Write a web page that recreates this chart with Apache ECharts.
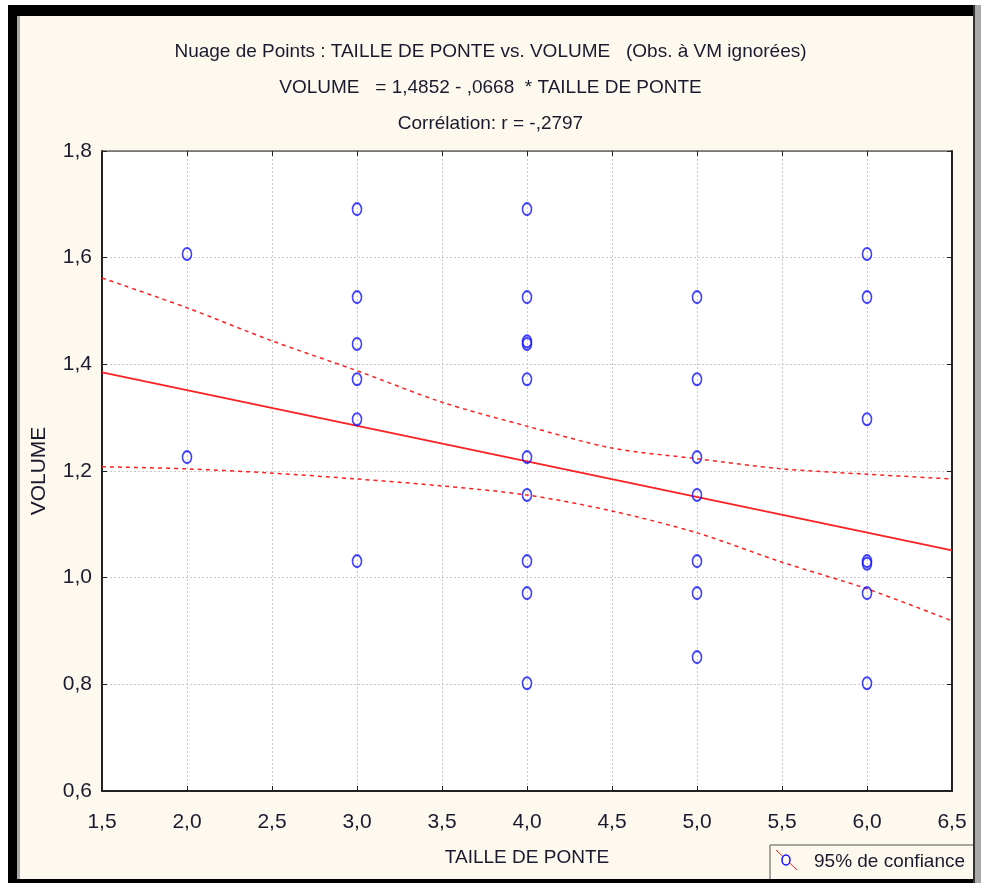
<!DOCTYPE html>
<html>
<head>
<meta charset="utf-8">
<script src="https://cdn.jsdelivr.net/npm/echarts@6/dist/echarts.min.js"></script>
<style>
  html, body { margin: 0; padding: 0; background: #ffffff; }
  #main { width: 981px; height: 883px; }
</style>
</head>
<body>
<div id="main"></div>
<script>
var chart = echarts.init(document.getElementById('main'))

// valeurs
var pontes = [2, 2, 3, 3, 3, 3, 3, 3, 4, 4, 4, 4, 4, 4, 4, 4, 4, 4, 5, 5, 5, 5, 5, 5, 5, 6, 6, 6, 6, 6, 6, 6]
var volumes = [1.607, 1.226, 1.691, 1.526, 1.438, 1.372, 1.297, 1.031, 1.691, 1.526, 1.443, 1.438, 1.372, 1.226, 1.155, 1.031, 0.971, 0.802, 1.526, 1.372, 1.226, 1.155, 1.031, 0.971, 0.851, 1.607, 1.526, 1.297, 1.031, 1.026, 0.971, 0.802]

// droite de régression (extrémités de l'axe)
var regX = [1.5, 6.5]
var regY = [1.385, 1.051]

// bornes de l'intervalle de confiance à 95%
var bandX = [1.5, 2.0, 2.5, 3.0, 3.5, 4.0, 4.5, 5.0, 5.5, 6.0, 6.5]
var bandUp = [1.562, 1.506, 1.444, 1.388, 1.329, 1.284, 1.243, 1.223, 1.204, 1.194, 1.185]
var bandLow = [1.208, 1.204, 1.196, 1.185, 1.172, 1.155, 1.125, 1.084, 1.029, 0.979, 0.919]

function pairs(xs, ys) {
  return xs.map(function(x, i) { return [x, ys[i]] })
}

var font = "'Liberation Sans', Arial, sans-serif"
var gridLine = { show: true, lineStyle: { color: '#c8c8c8', type: [2, 2], width: 1 } }

var option = {
  backgroundColor: '#ffffff',
  animation: false,
  title: {
    text: 'Nuage de Points : TAILLE DE PONTE vs. VOLUME   (Obs. à VM ignorées)\nVOLUME   = 1,4852 - ,0668  * TAILLE DE PONTE\nCorrélation: r = -,2797',
    left: 'center',
    top: 29,
    textStyle: { fontFamily: font, fontSize: 19, fontWeight: 'normal', color: '#1a1a2e', lineHeight: 36 }
  },
  grid: {
    left: 102, right: 29, top: 151, bottom: 92,
    show: true, backgroundColor: '#ffffff', borderColor: '#222222', borderWidth: 1
  },
  xAxis: [
    {
      type: 'value', min: 1.5, max: 6.5, interval: 0.5,
      name: 'TAILLE DE PONTE', nameLocation: 'middle', nameGap: 57,
      nameTextStyle: { fontFamily: font, fontSize: 19, color: '#1a1a2e' },
      axisLine: { show: true, lineStyle: { color: '#222222', width: 2 } },
      axisTick: { show: true, inside: true, length: 5, lineStyle: { color: '#222222' } },
      axisLabel: {
        fontFamily: font, fontSize: 21, color: '#1a1a2e', margin: 21,
        formatter: function(v) { return v.toFixed(1).replace('.', ',') }
      },
      splitLine: gridLine
    },
    {
      type: 'value', position: 'top', min: 1.5, max: 6.5, interval: 0.5,
      axisLine: { show: true, lineStyle: { color: '#777777', width: 1 } },
      axisTick: { show: true, inside: true, length: 5, lineStyle: { color: '#222222' } },
      axisLabel: { show: false },
      splitLine: { show: false }
    }
  ],
  yAxis: [
    {
      type: 'value', min: 0.6, max: 1.8, interval: 0.2,
      name: 'VOLUME', nameLocation: 'middle', nameGap: 52, nameRotate: 90,
      nameTextStyle: { fontFamily: font, fontSize: 21, color: '#1a1a2e' },
      axisLine: { show: true, lineStyle: { color: '#222222', width: 2 } },
      axisTick: { show: true, inside: true, length: 5, lineStyle: { color: '#222222' } },
      axisLabel: {
        fontFamily: font, fontSize: 21, color: '#1a1a2e', margin: 10,
        formatter: function(v) { return v.toFixed(1).replace('.', ',') }
      },
      splitLine: gridLine
    },
    {
      type: 'value', position: 'right', min: 0.6, max: 1.8, interval: 0.2,
      axisLine: { show: true, lineStyle: { color: '#222222', width: 2 } },
      axisTick: { show: true, inside: true, length: 5, lineStyle: { color: '#222222' } },
      axisLabel: { show: false },
      splitLine: { show: false }
    }
  ],
  series: [
    {
      name: 'Borne sup.', type: 'line', data: pairs(bandX, bandUp),
      showSymbol: false, smooth: 0.3, silent: true,
      lineStyle: { color: '#ff2020', width: 1.5, type: [4, 4] }
    },
    {
      name: 'Borne inf.', type: 'line', data: pairs(bandX, bandLow),
      showSymbol: false, smooth: 0.3, silent: true,
      lineStyle: { color: '#ff2020', width: 1.5, type: [4, 4] }
    },
    {
      name: 'Régression', type: 'line', data: pairs(regX, regY),
      showSymbol: false, silent: true,
      lineStyle: { color: '#ff2020', width: 1.8 }
    },
    {
      name: '95% de confiance', type: 'scatter', data: pairs(pontes, volumes),
      symbol: 'circle', symbolSize: [9, 12], z: 5,
      itemStyle: { color: 'rgba(255,255,255,0)', borderColor: '#1010ff', borderWidth: 1.8 }
    }
  ],
  graphic: [
    // cadre de la fenêtre
    { type: 'rect', z: -10, shape: { x: 8, y: 5, width: 973, height: 878 }, style: { fill: '#fdf9ef' } },
    { type: 'rect', z: 10, shape: { x: 8, y: 5, width: 967, height: 11 }, style: { fill: '#000000' } },
    { type: 'rect', z: 10, shape: { x: 8, y: 5, width: 9, height: 878 }, style: { fill: '#000000' } },
    { type: 'rect', z: 10, shape: { x: 17, y: 16, width: 3, height: 867 }, style: { fill: '#a8a8a8' } },
    { type: 'rect', z: 10, shape: { x: 8, y: 879, width: 973, height: 4 }, style: { fill: '#000000' } },
    { type: 'rect', z: 10, shape: { x: 975, y: 5, width: 6, height: 878 }, style: { fill: '#a8a8a8' } },
    { type: 'rect', z: 10, shape: { x: 973, y: 5, width: 2, height: 878 }, style: { fill: '#333333' } },
    // légende
    { type: 'rect', z: 9, shape: { x: 770, y: 845, width: 204, height: 36 }, style: { fill: '#fdf9ef', stroke: '#555555', lineWidth: 1 } },
    { type: 'line', z: 11, shape: { x1: 776, y1: 850, x2: 797, y2: 870 }, style: { stroke: '#ff2020', lineWidth: 1 } },
    { type: 'ellipse', z: 12, shape: { cx: 786, cy: 860, rx: 4, ry: 5 }, style: { fill: '#fdf9ef', stroke: '#1010ff', lineWidth: 1.5 } },
    { type: 'text', z: 12, x: 814, y: 862, style: { text: '95% de confiance', font: '19px ' + font, fill: '#1a1a2e', verticalAlign: 'middle' } }
  ]
}

chart.setOption(option)
</script>
</body>
</html>
